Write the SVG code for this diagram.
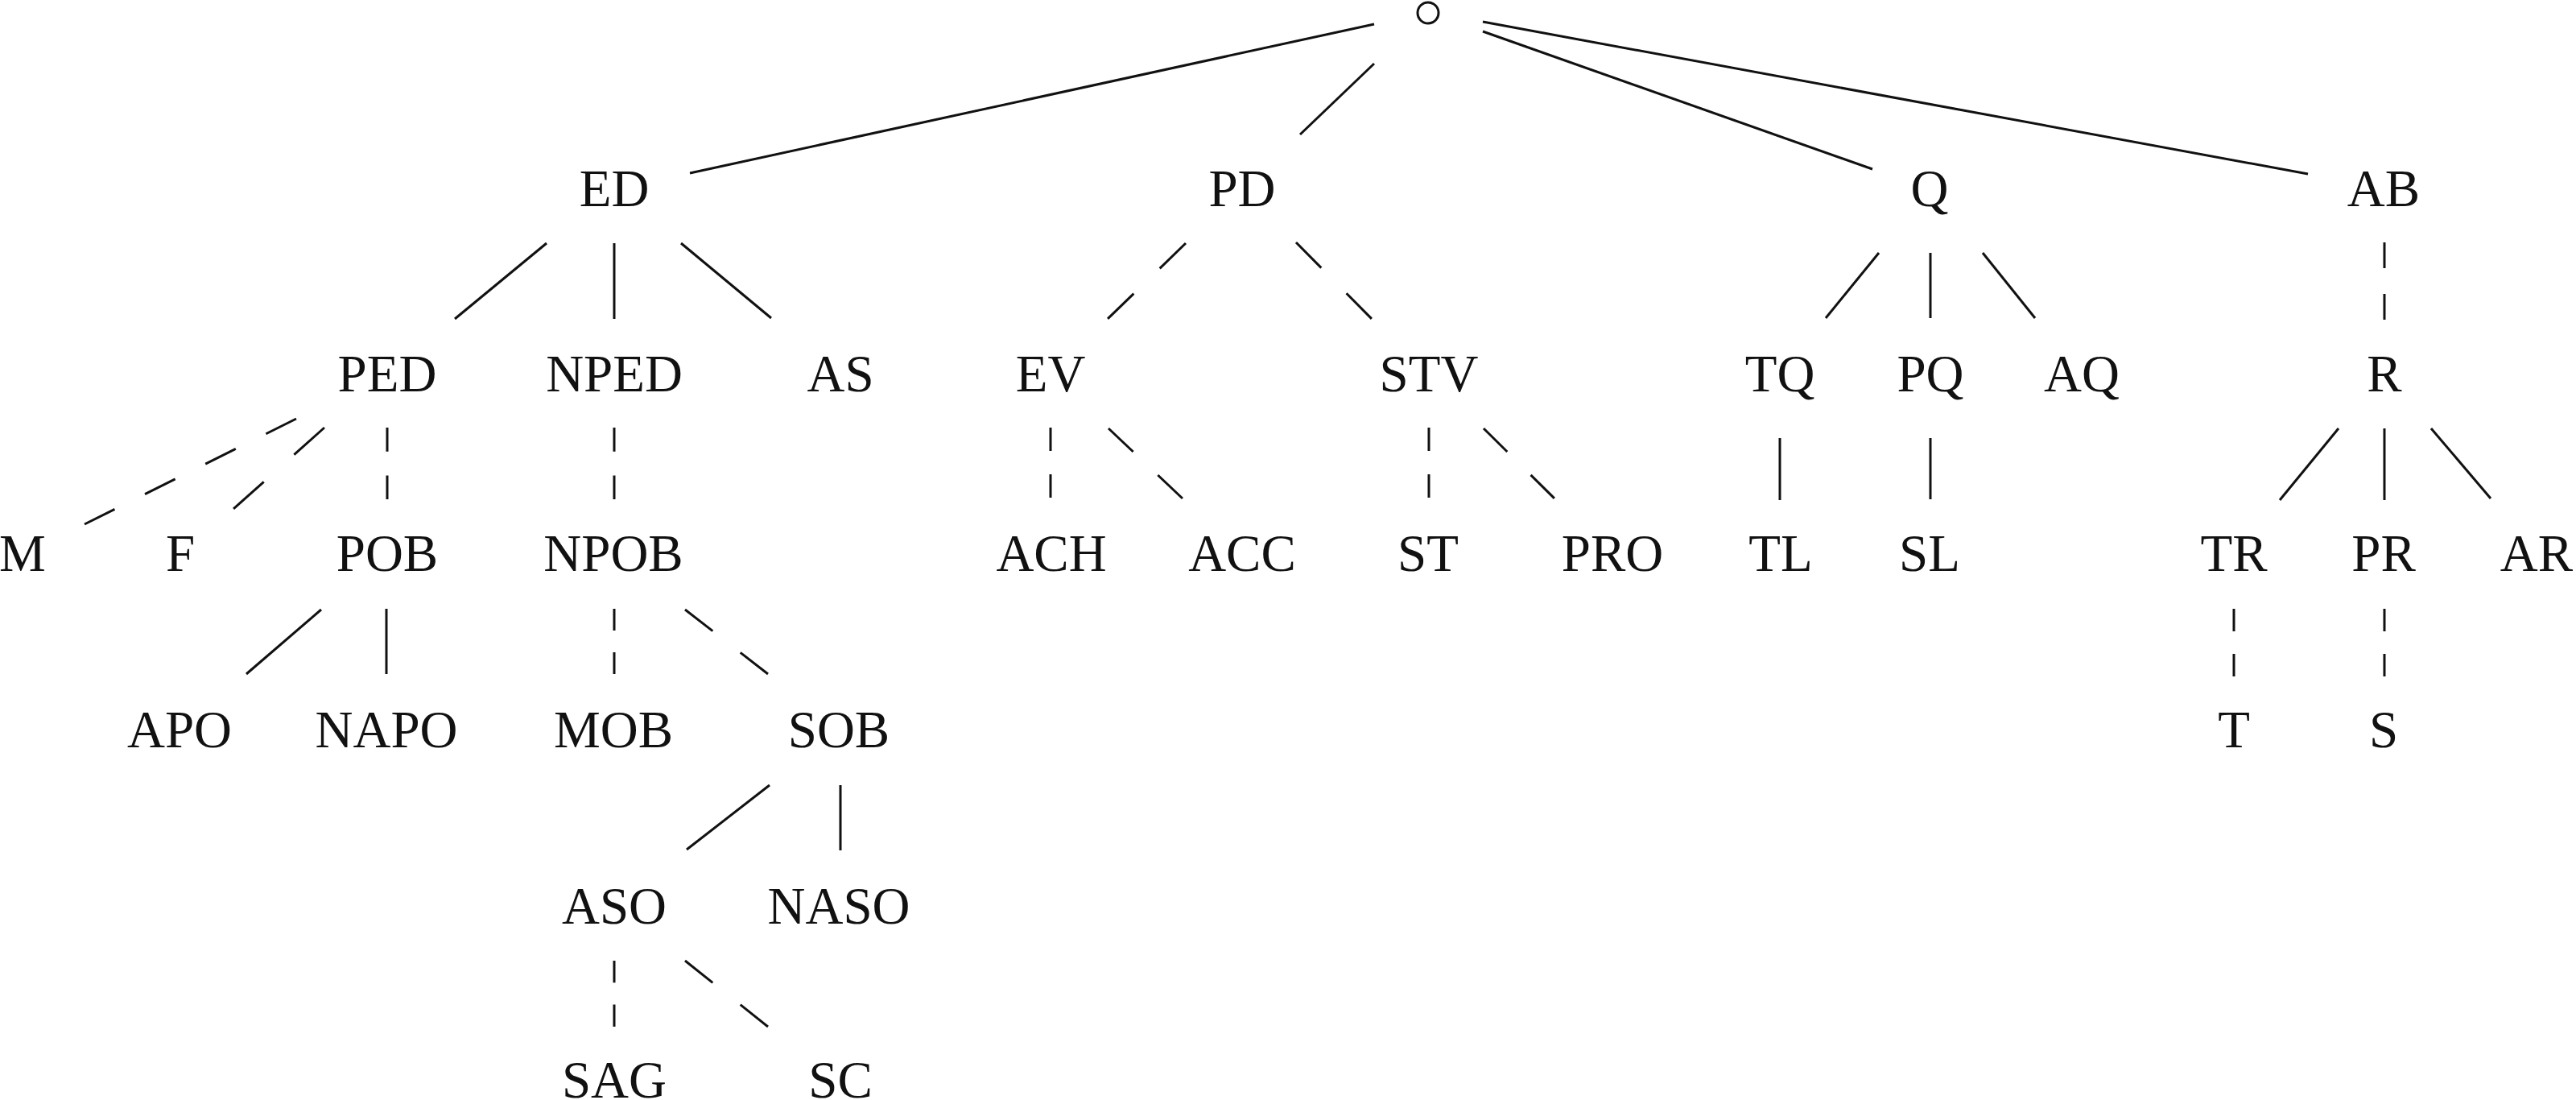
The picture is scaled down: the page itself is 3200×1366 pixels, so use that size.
<svg xmlns="http://www.w3.org/2000/svg" width="3200" height="1366" viewBox="0 0 3200 1366">
<style>
text{font-family:"Liberation Serif","Times New Roman",serif;font-size:65px;fill:#111;text-anchor:middle}
line{stroke:#111;stroke-width:3;fill:none}
circle{stroke:#111;stroke-width:3;fill:none}
</style>
<rect width="3200" height="1366" fill="#fff"/>
<g id="connectors">
<line x1="1707" y1="30" x2="857" y2="215"/>
<line x1="1707" y1="79" x2="1615" y2="167"/>
<line x1="1842" y1="39" x2="2326" y2="210"/>
<line x1="1842" y1="27" x2="2867" y2="216"/>
<line x1="679" y1="302" x2="565" y2="396"/>
<line x1="763" y1="302" x2="763" y2="396"/>
<line x1="846" y1="302" x2="958" y2="395"/>
<line x1="399" y1="757" x2="306" y2="837"/>
<line x1="480" y1="756" x2="480" y2="837"/>
<line x1="956" y1="975" x2="853" y2="1055"/>
<line x1="1044" y1="975" x2="1044" y2="1056"/>
<line x1="2334" y1="314" x2="2268" y2="395"/>
<line x1="2398" y1="314" x2="2398" y2="395"/>
<line x1="2463" y1="314" x2="2528" y2="395"/>
<line x1="2211" y1="544" x2="2211" y2="621"/>
<line x1="2398" y1="544" x2="2398" y2="620"/>
<line x1="2905" y1="532" x2="2832" y2="621"/>
<line x1="2962" y1="532" x2="2962" y2="621"/>
<line x1="3020" y1="532" x2="3094" y2="619"/>
<line x1="368" y1="520" x2="105" y2="651" stroke-dasharray="42 42"/>
<line x1="403" y1="531" x2="290" y2="632" stroke-dasharray="50.5 50.5"/>
<line x1="481" y1="531" x2="481" y2="620" stroke-dasharray="29.7 29.7"/>
<line x1="763" y1="531" x2="763" y2="620" stroke-dasharray="29.7 29.7"/>
<line x1="763" y1="756" x2="763" y2="837" stroke-dasharray="27 27"/>
<line x1="851" y1="757" x2="954" y2="837" stroke-dasharray="43.5 43.5"/>
<line x1="763" y1="1193" x2="763" y2="1275" stroke-dasharray="27.3 27.3"/>
<line x1="851" y1="1193" x2="954" y2="1275" stroke-dasharray="43.9 43.9"/>
<line x1="1473" y1="302" x2="1376" y2="396" stroke-dasharray="45 45"/>
<line x1="1610" y1="301" x2="1704" y2="396" stroke-dasharray="44.5 44.5"/>
<line x1="1305" y1="531" x2="1305" y2="618" stroke-dasharray="29 29"/>
<line x1="1377" y1="532" x2="1469" y2="619" stroke-dasharray="42.2 42.2"/>
<line x1="1775" y1="531" x2="1775" y2="618" stroke-dasharray="29 29"/>
<line x1="1843" y1="532" x2="1931" y2="619" stroke-dasharray="41.2 41.2"/>
<line x1="2962" y1="301" x2="2962" y2="397" stroke-dasharray="32 32"/>
<line x1="2775" y1="756" x2="2775" y2="840" stroke-dasharray="28 28"/>
<line x1="2962" y1="756" x2="2962" y2="840" stroke-dasharray="28 28"/>
</g>
<g id="root"><circle cx="1774" cy="16" r="13"/></g>
<g id="ED"><text x="763" y="256">ED</text></g>
<g id="PD"><text x="1543" y="256">PD</text></g>
<g id="Q"><text x="2397" y="256">Q</text></g>
<g id="AB"><text x="2961" y="256">AB</text></g>
<g id="PED"><text x="481" y="486">PED</text></g>
<g id="NPED"><text x="763" y="486">NPED</text></g>
<g id="AS"><text x="1044" y="486">AS</text></g>
<g id="EV"><text x="1305" y="486">EV</text></g>
<g id="STV"><text x="1775" y="486">STV</text></g>
<g id="TQ"><text x="2211" y="486">TQ</text></g>
<g id="PQ"><text x="2398" y="486">PQ</text></g>
<g id="AQ"><text x="2586" y="486">AQ</text></g>
<g id="R"><text x="2962" y="486">R</text></g>
<g id="M"><text x="28" y="709">M</text></g>
<g id="F"><text x="224" y="709">F</text></g>
<g id="POB"><text x="481" y="709">POB</text></g>
<g id="NPOB"><text x="762" y="709">NPOB</text></g>
<g id="ACH"><text x="1306" y="709">ACH</text></g>
<g id="ACC"><text x="1543" y="709">ACC</text></g>
<g id="ST"><text x="1774" y="709">ST</text></g>
<g id="PRO"><text x="2003" y="709">PRO</text></g>
<g id="TL"><text x="2212" y="709">TL</text></g>
<g id="SL"><text x="2397" y="709">SL</text></g>
<g id="TR"><text x="2775" y="709">TR</text></g>
<g id="PR"><text x="2961" y="709">PR</text></g>
<g id="AR"><text x="3151" y="709">AR</text></g>
<g id="APO"><text x="223" y="928">APO</text></g>
<g id="NAPO"><text x="480" y="928">NAPO</text></g>
<g id="MOB"><text x="762" y="928">MOB</text></g>
<g id="SOB"><text x="1042" y="928">SOB</text></g>
<g id="T"><text x="2775" y="928">T</text></g>
<g id="S"><text x="2961" y="928">S</text></g>
<g id="ASO"><text x="763" y="1147">ASO</text></g>
<g id="NASO"><text x="1042" y="1147">NASO</text></g>
<g id="SAG"><text x="763" y="1363">SAG</text></g>
<g id="SC"><text x="1044" y="1363">SC</text></g>
</svg>
